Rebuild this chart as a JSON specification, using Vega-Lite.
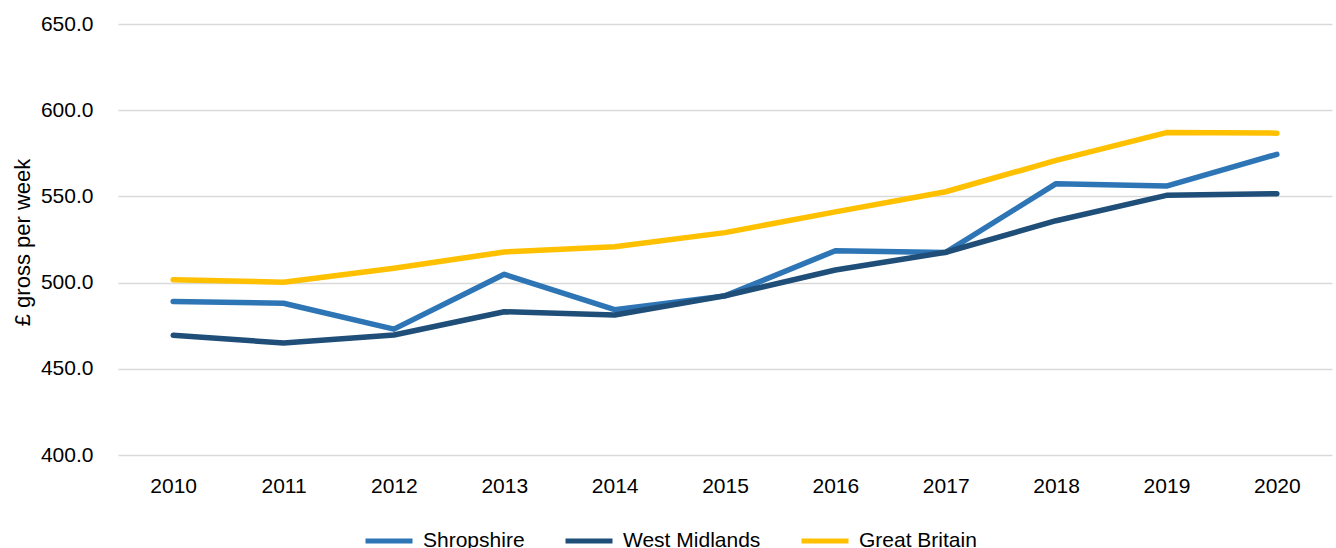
{
  "$schema": "https://vega.github.io/schema/vega-lite/v6.json",
  "autosize": "none",
  "width": 1214,
  "height": 431,
  "padding": {"left": 118, "top": 24, "right": 4, "bottom": 93},
  "background": "white",
  "config": {
    "view": {"stroke": null},
    "font": "Liberation Sans"
  },
  "data": {
    "values": [
      {"year": "2010", "area": "Shropshire", "value": 489.0},
      {"year": "2011", "area": "Shropshire", "value": 488.0},
      {"year": "2012", "area": "Shropshire", "value": 473.0},
      {"year": "2013", "area": "Shropshire", "value": 504.8},
      {"year": "2014", "area": "Shropshire", "value": 484.3},
      {"year": "2015", "area": "Shropshire", "value": 492.3},
      {"year": "2016", "area": "Shropshire", "value": 518.5},
      {"year": "2017", "area": "Shropshire", "value": 517.5},
      {"year": "2018", "area": "Shropshire", "value": 557.4},
      {"year": "2019", "area": "Shropshire", "value": 556.0},
      {"year": "2020", "area": "Shropshire", "value": 574.4},
      {"year": "2010", "area": "West Midlands", "value": 469.4},
      {"year": "2011", "area": "West Midlands", "value": 465.0},
      {"year": "2012", "area": "West Midlands", "value": 469.6},
      {"year": "2013", "area": "West Midlands", "value": 483.1},
      {"year": "2014", "area": "West Midlands", "value": 481.2},
      {"year": "2015", "area": "West Midlands", "value": 492.4},
      {"year": "2016", "area": "West Midlands", "value": 507.3},
      {"year": "2017", "area": "West Midlands", "value": 517.6},
      {"year": "2018", "area": "West Midlands", "value": 535.9},
      {"year": "2019", "area": "West Midlands", "value": 550.6},
      {"year": "2020", "area": "West Midlands", "value": 551.6},
      {"year": "2010", "area": "Great Britain", "value": 501.7},
      {"year": "2011", "area": "Great Britain", "value": 500.2},
      {"year": "2012", "area": "Great Britain", "value": 508.3},
      {"year": "2013", "area": "Great Britain", "value": 517.8},
      {"year": "2014", "area": "Great Britain", "value": 520.8},
      {"year": "2015", "area": "Great Britain", "value": 529.0},
      {"year": "2016", "area": "Great Britain", "value": 541.0},
      {"year": "2017", "area": "Great Britain", "value": 552.7},
      {"year": "2018", "area": "Great Britain", "value": 570.9},
      {"year": "2019", "area": "Great Britain", "value": 587.0},
      {"year": "2020", "area": "Great Britain", "value": 586.7}
    ]
  },
  "mark": {"type": "line", "strokeWidth": 5.5, "strokeCap": "round", "strokeJoin": "round"},
  "encoding": {
    "x": {
      "field": "year",
      "type": "ordinal",
      "scale": {"type": "point", "padding": 0.5},
      "axis": {
        "title": null,
        "labelAngle": 0,
        "domain": false,
        "ticks": false,
        "grid": false,
        "labelFontSize": 21,
        "labelColor": "#000000",
        "labelPadding": 20
      }
    },
    "y": {
      "field": "value",
      "type": "quantitative",
      "scale": {"domain": [400, 650], "nice": false, "zero": false},
      "axis": {
        "title": "£ gross per week",
        "values": [400, 450, 500, 550, 600, 650],
        "format": ".1f",
        "domain": false,
        "ticks": false,
        "grid": true,
        "gridColor": "#d9d9d9",
        "gridWidth": 1.5,
        "labelFontSize": 21,
        "labelColor": "#000000",
        "labelPadding": 25,
        "titleFontSize": 22,
        "titleFontWeight": "normal",
        "titleColor": "#000000",
        "titleAngle": -90,
        "titleX": -96,
        "titleY": 218,
        "titleAlign": "center",
        "titleBaseline": "middle"
      }
    },
    "color": {
      "field": "area",
      "type": "nominal",
      "scale": {
        "domain": ["Shropshire", "West Midlands", "Great Britain"],
        "range": ["#2e75b6", "#1f4e79", "#ffc000"]
      },
      "legend": {
        "title": null,
        "orient": "none",
        "direction": "horizontal",
        "legendX": 245,
        "legendY": 491,
        "symbolType": "stroke",
        "symbolSize": 2209,
        "symbolStrokeWidth": 5,
        "labelFontSize": 21,
        "labelColor": "#000000",
        "labelOffset": 8,
        "columnPadding": 30
      }
    }
  }
}
